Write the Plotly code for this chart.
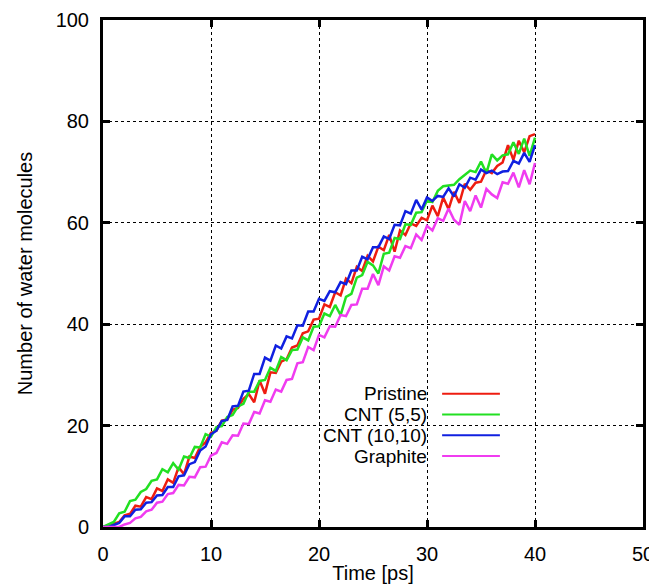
import plotly.graph_objects as go

# Zeit in ps (0 .. 40, Schritt 0.5)
zeit = [i * 0.5 for i in range(81)]

pristine = [
    0, 0, 0.6, 1.0, 2.3, 2.6, 4.2, 4.0, 5.9, 5.5,
    7.6, 7.1, 9.4, 8.7, 11.8, 10.4, 13.9, 13.6, 15.8, 16.7,
    18.6, 19.0, 21.0, 21.2, 23.1, 23.5, 25.3, 26.2, 24.6, 28.9,
    26.3, 30.5, 30.4, 32.6, 33.1, 35.4, 35.8, 38.2, 38.6, 40.9,
    41.1, 43.9, 43.4, 46.3, 45.7, 49.0, 48.1, 51.3, 50.5, 53.5,
    52.4, 55.3, 54.6, 57.6, 54.3, 58.5, 57.6, 59.9, 59.4, 61.0,
    60.5, 63.4, 61.3, 65.0, 62.7, 66.1, 63.9, 67.7, 66.5, 67.9,
    68.1, 70.4, 69.8, 71.2, 71.9, 75.3, 72.4, 76.2, 73.9, 77.1,
    77.5,
]

cnt55 = [
    0, 0.5, 1.0, 2.7, 3.0, 5.1, 5.4, 6.9, 7.5, 9.1,
    9.4, 11.4, 10.8, 12.6, 11.3, 13.9, 13.6, 15.8, 15.7, 18.3,
    17.8, 19.7, 19.9, 21.7, 22.1, 23.8, 24.3, 26.7, 26.7, 28.8,
    29.0, 31.4, 30.8, 33.5, 32.9, 34.9, 35.0, 37.4, 36.8, 39.5,
    39.6, 42.1, 41.6, 43.8, 41.8, 45.4, 46.0, 49.2, 49.7, 52.3,
    51.6, 50.0, 53.9, 54.1, 57.0, 56.8, 59.7, 59.6, 62.0, 62.1,
    64.4, 64.1, 66.3, 67.2, 67.4, 67.5, 68.6, 69.4, 70.3, 70.0,
    72.1, 69.8, 73.5, 72.3, 73.3, 73.5, 75.9, 73.6, 76.6, 73.2,
    76.8,
]

cnt1010 = [
    0, 0, 0.4, 0.8, 2.1, 2.1, 3.4, 3.5, 4.8, 4.9,
    6.2, 6.3, 7.9, 7.9, 10.0, 10.2, 12.4, 12.8, 15.1, 15.9,
    18.3, 19.0, 20.9, 21.1, 23.8, 23.9, 26.7, 26.9, 30.2, 30.2,
    33.4, 32.8, 35.8, 35.2, 37.6, 37.2, 39.8, 39.7, 42.5, 42.5,
    45.0, 44.6, 46.5, 46.3, 48.3, 47.9, 50.6, 50.6, 53.3, 52.8,
    55.2, 55.2, 57.3, 56.8, 59.6, 59.5, 62.3, 61.8, 64.5, 62.6,
    65.0, 64.3, 65.3, 65.1, 66.8, 65.2, 67.6, 66.9, 68.9, 68.5,
    70.5, 69.8, 70.3, 69.6, 70.1, 70.2, 72.2, 71.7, 73.8, 72.0,
    75.3,
]

graphite = [
    0, 0, 0, 0, 0.5, 0.8, 1.7, 2.0, 3.1, 3.4,
    4.8, 5.0, 6.5, 6.7, 8.3, 8.2, 9.9, 9.8, 11.8, 11.9,
    14.1, 14.6, 16.7, 16.4, 18.1, 18.0, 20.4, 20.3, 22.7, 22.4,
    25.0, 24.7, 27.1, 26.7, 29.0, 29.2, 32.3, 32.5, 35.5, 34.9,
    37.9, 37.4, 39.6, 39.5, 41.8, 41.6, 43.8, 43.9, 47.0, 47.0,
    49.9, 47.7, 51.4, 50.6, 53.4, 53.1, 55.4, 55.0, 57.7, 56.6,
    59.4, 58.5, 60.9, 60.4, 62.8, 60.6, 59.6, 64.3, 62.3, 65.4,
    63.0, 66.7, 65.6, 64.9, 68.0, 67.7, 69.9, 67.0, 70.4, 67.6,
    71.8,
]

namen = ["Pristine", "CNT (5,5)", "CNT (10,10)", "Graphite"]
farben = ["#ee1c10", "#22e022", "#1020e0", "#f03cf0"]
serien = [pristine, cnt55, cnt1010, graphite]

schrift = "Liberation Sans, Arial, sans-serif"

fig = go.Figure()
for name, farbe, werte in zip(namen, farben, serien):
    fig.add_trace(go.Scatter(
        x=zeit, y=werte, name=name, mode="lines",
        line=dict(color=farbe, width=2.5),
        showlegend=False,
    ))

# Legende im gnuplot-Stil: Text links, Linienprobe rechts
legende_y = [0.263, 0.222, 0.181, 0.140]
fig.add_shape(type="rect", xref="paper", yref="paper",
              x0=0.355, x1=0.757, y0=0.122, y1=0.28,
              fillcolor="white", line_width=0, layer="between")
for name, farbe, ly in zip(namen, farben, legende_y):
    fig.add_annotation(x=0.603, y=ly, xref="paper", yref="paper",
                       text=name, showarrow=False, xanchor="right", yanchor="middle",
                       font=dict(family=schrift, size=19, color="black"))
    fig.add_shape(type="line", xref="paper", yref="paper",
                  x0=0.628, x1=0.735, y0=ly, y1=ly,
                  line=dict(color=farbe, width=2))

achse = dict(
    showline=True, linecolor="black", linewidth=3, mirror="ticks",
    ticks="inside", ticklen=7, tickwidth=3, tickcolor="black",
    showgrid=True, gridcolor="black", griddash="dot", gridwidth=1,
    zeroline=False, ticklabelstandoff=7, automargin=False,
    tickfont=dict(family=schrift, size=20, color="black"),
)

fig.update_xaxes(achse, range=[0, 50], dtick=10,
                 title=dict(text="Time [ps]", font=dict(family=schrift, size=20, color="black"), standoff=2))
fig.update_yaxes(achse, range=[0, 100], dtick=20,
                 title=dict(text="Number of water molecules", font=dict(family=schrift, size=20, color="black"), standoff=18))

# Seitenrand des Browsers (8 px) ist in den Rändern schon abgezogen
fig.update_layout(
    width=657, height=587,
    margin=dict(l=95, r=22, t=12, b=68),
    plot_bgcolor="white", paper_bgcolor="white",
)

fig.write_html("out.html")
